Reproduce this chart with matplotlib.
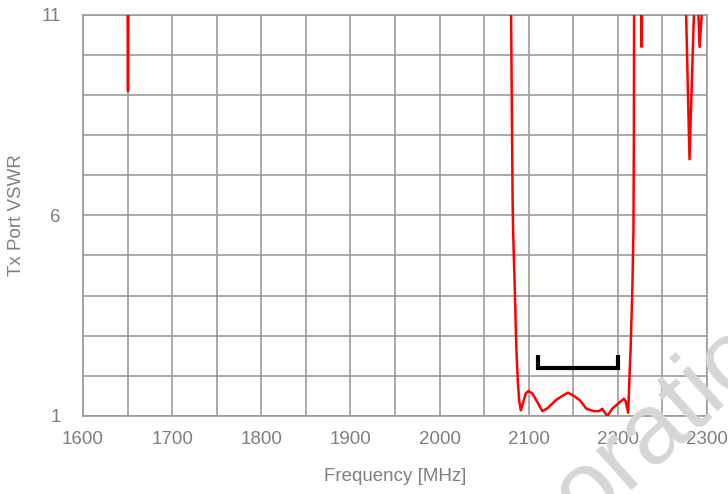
import math
import matplotlib
matplotlib.use("Agg")
import matplotlib.pyplot as plt

# Tx port VSWR sweep (MHz, VSWR); values above 11 run off the top of the plot
freq_mhz = [
    1600.0, 1649.6, 1650.1, 1650.5, 1650.9, 1651.4,
    2079.6, 2080.3, 2082.0, 2082.6, 2084.8, 2085.7, 2086.4, 2087.8, 2089.3,
    2091.2, 2096.8, 2099.7, 2104.2, 2108.7, 2115.4, 2121.0, 2130.3, 2137.8,
    2144.2, 2150.9, 2158.4, 2164.7, 2173.3, 2178.9, 2182.6, 2185.6, 2188.2,
    2193.8, 2199.4, 2206.9, 2208.8, 2211.7, 2213.3, 2214.4, 2215.0, 2216.3,
    2217.6, 2218.1, 2218.4,
    2225.9, 2226.3, 2226.7, 2227.1, 2227.5,
    2276.0, 2276.7, 2280.5, 2285.4, 2286.0,
    2290.0, 2290.5, 2291.8, 2294.2, 2294.8, 2300.0,
]
vswr = [
    12.0, 12.0, 11.0, 9.1, 11.0, 12.0,
    12.0, 11.0, 6.4, 5.6, 3.9, 3.1, 2.6, 1.9, 1.4,
    1.14, 1.56, 1.62, 1.56, 1.39, 1.12, 1.19, 1.39, 1.50,
    1.58, 1.50, 1.37, 1.18, 1.12, 1.12, 1.18, 1.08, 1.0,
    1.18, 1.29, 1.43, 1.37, 1.08, 2.06, 2.64, 3.14, 4.1,
    5.6, 8.0, 12.0,
    12.0, 11.0, 10.2, 11.0, 12.0,
    12.0, 11.0, 7.4, 11.0, 12.0,
    12.0, 11.0, 10.2, 11.0, 12.0, 12.0,
]

# Tx band marker
band_mhz = [2110, 2200]
band_level = 2.2
band_tick_top = 2.52

x_ticks = [1600, 1700, 1800, 1900, 2000, 2100, 2200, 2300]
y_ticks = [1, 6, 11]

grid_color = "#9b9b9b"
text_color = "#7f7f7f"
plt.rcParams["font.family"] = ["Liberation Sans", "DejaVu Sans"]

W, H = 728, 494
fig = plt.figure(figsize=(W / 100, H / 100), dpi=100)
ax = fig.add_axes([0.114, 0.158, 0.857, 0.812])

ax.plot(freq_mhz, vswr, color="#ff0000", lw=1.8, zorder=3, solid_joinstyle="round")
ax.plot([band_mhz[0], band_mhz[0], band_mhz[1], band_mhz[1]],
        [band_tick_top, band_level, band_level, band_tick_top],
        color="black", lw=3.0, zorder=4, solid_joinstyle="miter", solid_capstyle="butt")

ax.set_xlim(1600, 2300)
ax.set_ylim(1, 11)
ax.set_xticks(x_ticks)
ax.set_xticks(range(1650, 2300, 100), minor=True)
ax.set_yticks(y_ticks)
ax.set_yticks(range(1, 12), minor=True)
ax.grid(True, which="both", color=grid_color, lw=1.2, zorder=1)
ax.set_axisbelow(True)
for s in ax.spines.values():
    s.set_color(grid_color)
    s.set_linewidth(1.2)

ax.tick_params(which="both", length=0)
ax.tick_params(axis="x", labelsize=13.5, labelcolor=text_color, pad=11)
ax.tick_params(axis="y", labelsize=13.5, labelcolor=text_color, pad=16)

ax.set_xlabel("Frequency [MHz]", fontsize=13.5, color=text_color, va="center")
ax.set_ylabel("Tx Port VSWR", fontsize=13.5, color=text_color, va="center")
ax.xaxis.set_label_coords(0.5, -0.150)
ax.yaxis.set_label_coords(-0.106, 0.5)

# faint diagonal watermark; only "oratio" falls inside the figure.
# place it so the baseline start of the "r" sits near pixel (626, 490)
wm_size = 72
wm_angle = 42
renderer = fig.canvas.get_renderer()
probe = fig.text(0, 0, "Collabo", fontsize=wm_size)
prefix_px = probe.get_window_extent(renderer).width
probe.remove()
ca, sa = math.cos(math.radians(wm_angle)), math.sin(math.radians(wm_angle))
rx, ry = 626, H - 490
fig.text((rx - prefix_px * ca) / W, (ry - prefix_px * sa) / H, "Collaboration",
         fontsize=wm_size, color="#d6d6d6", rotation=wm_angle,
         rotation_mode="anchor", ha="left", va="baseline", zorder=0)

fig.savefig("out.png", dpi=100)
